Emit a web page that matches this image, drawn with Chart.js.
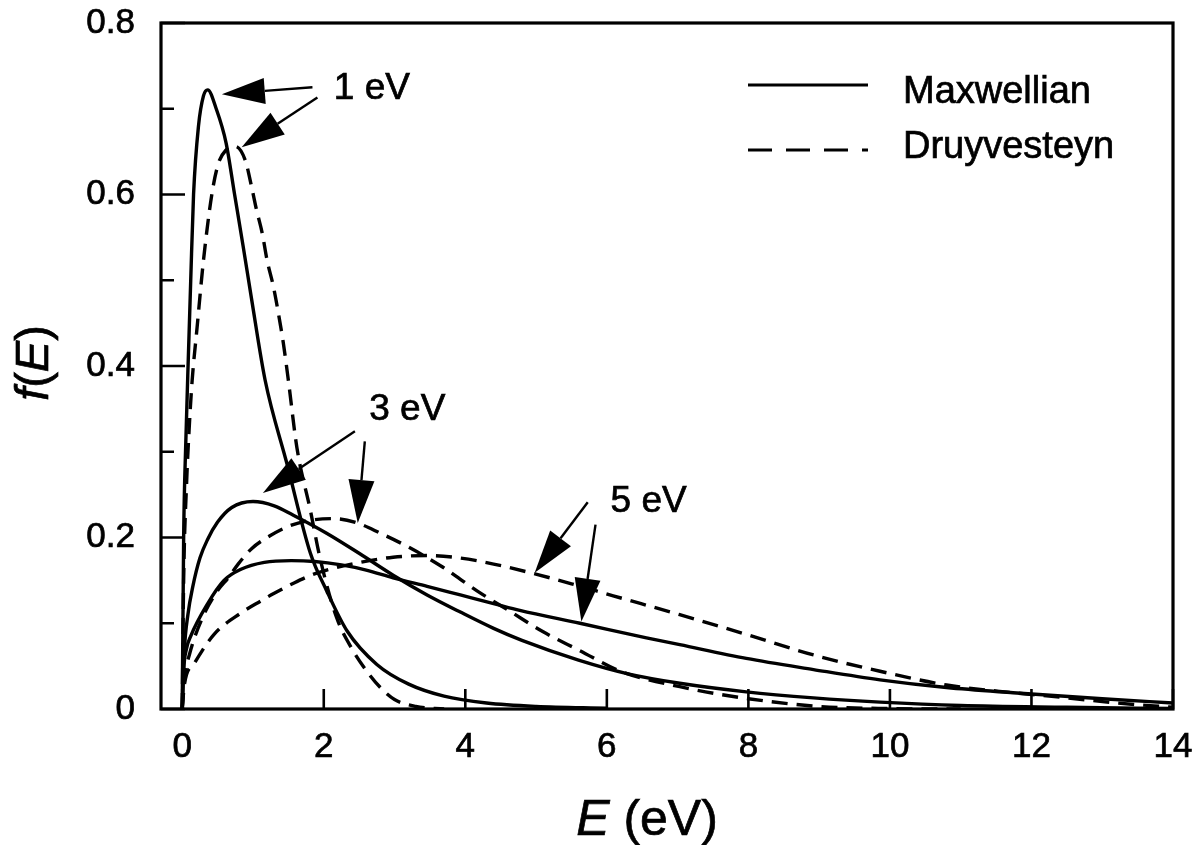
<!DOCTYPE html>
<html>
<head>
<meta charset="utf-8">
<title>Maxwellian and Druyvesteyn energy distributions</title>
<script src="https://cdn.jsdelivr.net/npm/chart.js@4.4.1/dist/chart.umd.min.js"></script>
<style>
  html, body { margin: 0; padding: 0; background: #fff; }
  canvas { display: block; }
</style>
</head>
<body>
<canvas id="edfChart" width="1195" height="845"></canvas>
<script>
// E (eV) and f(E), one pair of arrays per curve
const maxwell1E = [0, 0.02, 0.05, 0.09, 0.12, 0.16, 0.23, 0.30, 0.36, 0.48, 0.62, 0.74, 0.86, 0.98, 1.17, 1.48, 1.81, 2.04, 2.33, 2.75, 3.2, 3.7, 4.3, 5.0, 6.0];
const maxwell1F = [0, 0.20, 0.31, 0.42, 0.50, 0.60, 0.68, 0.715, 0.722, 0.70, 0.66, 0.60, 0.54, 0.478, 0.384, 0.286, 0.182, 0.138, 0.091, 0.052, 0.029, 0.015, 0.007, 0.003, 0.001];

const druy1E = [0, 0.02, 0.06, 0.10, 0.14, 0.21, 0.30, 0.42, 0.51, 0.62, 0.75, 0.89, 0.98, 1.05, 1.13, 1.20, 1.29, 1.36, 1.43, 1.50, 1.62, 1.81, 1.95, 2.18, 2.40, 2.60, 2.80, 3.00, 3.30, 3.70];
const druy1F = [0, 0.15, 0.26, 0.33, 0.383, 0.445, 0.523, 0.601, 0.636, 0.652, 0.656, 0.64, 0.609, 0.582, 0.555, 0.523, 0.492, 0.461, 0.426, 0.383, 0.305, 0.232, 0.175, 0.107, 0.07, 0.045, 0.025, 0.011, 0.003, 0];

const maxwell3E = [0, 0.03, 0.08, 0.15, 0.25, 0.36, 0.5, 0.7, 1.0, 1.3, 1.57, 2.04, 2.51, 2.98, 3.46, 3.93, 4.40, 4.8, 5.6, 6.3, 7.03, 7.97, 8.92, 9.86, 11, 12.5, 14];
const maxwell3F = [0, 0.068, 0.11, 0.143, 0.176, 0.198, 0.218, 0.235, 0.242, 0.237, 0.226, 0.205, 0.181, 0.156, 0.133, 0.113, 0.094, 0.080, 0.057, 0.041, 0.030, 0.020, 0.013, 0.008, 0.004, 0.002, 0.0005];

const druy3E = [0, 0.03, 0.10, 0.30, 0.50, 0.65, 0.79, 0.98, 1.24, 1.50, 1.81, 2.15, 2.47, 2.8, 3.17, 3.69, 4.16, 4.63, 5.1, 5.62, 6.19, 7.03, 8.0, 9.0, 10, 11];
const druy3F = [0, 0.035, 0.063, 0.109, 0.138, 0.153, 0.169, 0.187, 0.202, 0.213, 0.22, 0.222, 0.217, 0.205, 0.19, 0.165, 0.138, 0.114, 0.09, 0.068, 0.044, 0.026, 0.012, 0.003, 0.0005, 0];

const maxwell5E = [0, 0.02, 0.06, 0.12, 0.36, 0.59, 0.83, 1.16, 1.54, 1.87, 2.25, 2.6, 2.98, 3.46, 3.93, 4.40, 4.77, 5.62, 6.56, 7.03, 7.97, 8.92, 9.86, 10.8, 11.74, 13, 14];
const maxwell5F = [0, 0.045, 0.07, 0.085, 0.123, 0.15, 0.163, 0.171, 0.173, 0.172, 0.168, 0.162, 0.153, 0.143, 0.133, 0.123, 0.115, 0.100, 0.083, 0.075, 0.059, 0.046, 0.034, 0.025, 0.019, 0.012, 0.007];

const druy5E = [0, 0.03, 0.17, 0.45, 0.83, 1.11, 1.30, 1.58, 1.82, 2.04, 2.51, 2.98, 3.46, 3.93, 4.40, 5.01, 5.5, 6.09, 7.03, 7.97, 8.92, 9.86, 10.8, 11.74, 12.5, 13.2, 14];
const druy5F = [0, 0.028, 0.053, 0.087, 0.112, 0.126, 0.135, 0.147, 0.156, 0.162, 0.171, 0.177, 0.179, 0.176, 0.169, 0.157, 0.146, 0.132, 0.110, 0.087, 0.063, 0.044, 0.028, 0.019, 0.013, 0.007, 0.002];

// axes
const xTickValues = [0, 2, 4, 6, 8, 10, 12, 14];
const xTickLabels = ['0', '2', '4', '6', '8', '10', '12', '14'];
const yTickValues = [0, 0.2, 0.4, 0.6, 0.8];
const yTickLabels = ['0', '0.2', '0.4', '0.6', '0.8'];
const yMinorTicks = [0.1, 0.3, 0.5, 0.7];

// legend and curve labels (in data units)
const legendLabels = ['Maxwellian', 'Druyvesteyn'];
const noteLabels = ['1 eV', '3 eV', '5 eV'];
const noteE = [2.68, 3.18, 6.59];
const noteF = [0.723, 0.349, 0.242];
const arrowTailE = [1.84, 1.91, 2.44, 2.58, 5.73, 5.84];
const arrowTailF = [0.725, 0.713, 0.324, 0.312, 0.241, 0.215];
const arrowTipE = [0.56, 0.84, 1.14, 2.48, 4.98, 5.64];
const arrowTipF = [0.717, 0.655, 0.252, 0.217, 0.159, 0.102];

const FONT = '"Liberation Sans", Arial, Helvetica, sans-serif';
const DASH = [16, 9];

function toPoints(xs, ys) {
  return xs.map((x, i) => ({ x: x, y: ys[i] }));
}

function curve(label, xs, ys, dashed) {
  return {
    label: label,
    data: toPoints(xs, ys),
    borderColor: '#000',
    borderWidth: 3.4,
    borderDash: dashed ? DASH : [],
    pointRadius: 0,
    cubicInterpolationMode: 'monotone',
    fill: false
  };
}

function drawArrow(ctx, x1, y1, x2, y2) {
  const ang = Math.atan2(y2 - y1, x2 - x1);
  const len = 43, half = 13;
  const bx = x2 - len * Math.cos(ang);
  const by = y2 - len * Math.sin(ang);
  ctx.lineWidth = 2.4;
  ctx.beginPath();
  ctx.moveTo(x1, y1);
  ctx.lineTo(bx, by);
  ctx.stroke();
  ctx.beginPath();
  ctx.moveTo(x2, y2);
  ctx.lineTo(bx + half * Math.sin(ang), by - half * Math.cos(ang));
  ctx.lineTo(bx - half * Math.sin(ang), by + half * Math.cos(ang));
  ctx.closePath();
  ctx.fill();
}

// fill plus a thin stroke, so the text has the weight of the scanned original
function heavyText(ctx, t, x, y) {
  ctx.fillText(t, x, y);
  ctx.strokeText(t, x, y);
}

// frame, inward ticks, notes, legend and axis titles
const decorPlugin = {
  id: 'decor',
  afterDraw(chart) {
    const { ctx, chartArea: a, scales: { x, y } } = chart;
    ctx.save();
    ctx.strokeStyle = '#000';
    ctx.fillStyle = '#000';
    ctx.setLineDash([]);

    ctx.lineWidth = 3.2;
    ctx.strokeRect(a.left, a.top, a.right - a.left, a.bottom - a.top);

    ctx.lineWidth = 2.6;
    ctx.beginPath();
    xTickValues.forEach(v => {
      const px = x.getPixelForValue(v);
      ctx.moveTo(px, a.bottom);
      ctx.lineTo(px, a.bottom - 20);
    });
    yTickValues.forEach(v => {
      const py = y.getPixelForValue(v);
      ctx.moveTo(a.left, py);
      ctx.lineTo(a.left + 24, py);
    });
    yMinorTicks.forEach(v => {
      const py = y.getPixelForValue(v);
      ctx.moveTo(a.left, py);
      ctx.lineTo(a.left + 13, py);
    });
    ctx.stroke();

    // arrows, then the notes they point from
    arrowTipE.forEach((e, i) => {
      drawArrow(ctx,
        x.getPixelForValue(arrowTailE[i]), y.getPixelForValue(arrowTailF[i]),
        x.getPixelForValue(e), y.getPixelForValue(arrowTipF[i]));
    });
    ctx.lineWidth = 0.7;
    ctx.font = '37px ' + FONT;
    ctx.textAlign = 'center';
    ctx.textBaseline = 'middle';
    noteLabels.forEach((t, i) => {
      heavyText(ctx, t, x.getPixelForValue(noteE[i]), y.getPixelForValue(noteF[i]));
    });

    // legend
    const lx0 = a.right - 425, lx1 = a.right - 305, tx = a.right - 270;
    ctx.lineWidth = 3;
    ctx.beginPath();
    ctx.moveTo(lx0, a.top + 62);
    ctx.lineTo(lx1, a.top + 62);
    ctx.stroke();
    ctx.setLineDash([24, 14]);
    ctx.beginPath();
    ctx.moveTo(lx0, a.top + 127);
    ctx.lineTo(lx1, a.top + 127);
    ctx.stroke();
    ctx.setLineDash([]);
    ctx.lineWidth = 0.7;
    ctx.font = '38px ' + FONT;
    ctx.textAlign = 'left';
    ctx.textBaseline = 'alphabetic';
    heavyText(ctx, legendLabels[0], tx, a.top + 80);
    heavyText(ctx, legendLabels[1], tx, a.top + 135);

    // x title: italic E + " (eV)"
    const rest = ' (eV)';
    ctx.font = 'italic 50px ' + FONT;
    const wE = ctx.measureText('E').width;
    ctx.font = '50px ' + FONT;
    const wR = ctx.measureText(rest).width;
    const cx = (a.left + a.right) / 2 - 20;
    const x0 = cx - (wE + wR) / 2;
    ctx.font = 'italic 50px ' + FONT;
    heavyText(ctx, 'E', x0, 835);
    ctx.font = '50px ' + FONT;
    heavyText(ctx, rest, x0 + wE, 835);

    // y title: f(E), rotated, f and E italic
    ctx.translate(35, (a.top + a.bottom) / 2 - 3);
    ctx.rotate(-Math.PI / 2);
    const parts = [['f', true], ['(', false], ['E', true], [')', false]];
    let total = 0;
    parts.forEach(p => {
      ctx.font = (p[1] ? 'italic ' : '') + '47px ' + FONT;
      total += ctx.measureText(p[0]).width;
    });
    let px = -total / 2;
    ctx.textBaseline = 'middle';
    parts.forEach(p => {
      ctx.font = (p[1] ? 'italic ' : '') + '47px ' + FONT;
      heavyText(ctx, p[0], px, 0);
      px += ctx.measureText(p[0]).width;
    });
    ctx.restore();
  }
};

const tickFont = { family: FONT, size: 35 };

new Chart(document.getElementById('edfChart').getContext('2d'), {
  type: 'line',
  data: {
    datasets: [
      curve('Maxwellian 1 eV', maxwell1E, maxwell1F, false),
      curve('Druyvesteyn 1 eV', druy1E, druy1F, true),
      curve('Maxwellian 3 eV', maxwell3E, maxwell3F, false),
      curve('Druyvesteyn 3 eV', druy3E, druy3F, true),
      curve('Maxwellian 5 eV', maxwell5E, maxwell5F, false),
      curve('Druyvesteyn 5 eV', druy5E, druy5F, true)
    ]
  },
  options: {
    responsive: false,
    animation: false,
    devicePixelRatio: 1,
    events: [],
    layout: { padding: { top: 23, right: 22, left: 0, bottom: 0 } },
    plugins: {
      legend: { display: false },
      tooltip: { enabled: false },
      title: { display: false }
    },
    scales: {
      x: {
        type: 'linear',
        min: -0.3,
        max: 14,
        grid: { display: false },
        border: { display: false },
        afterBuildTicks: s => { s.ticks = xTickValues.map(v => ({ value: v })); },
        afterFit: s => { s.height = 136; s.paddingLeft = 0; s.paddingRight = 0; },
        ticks: {
          color: '#000',
          font: tickFont,
          textStrokeColor: '#000',
          textStrokeWidth: 0.7,
          padding: 9,
          maxRotation: 0,
          autoSkip: false,
          callback: (v, i) => xTickLabels[i]
        }
      },
      y: {
        type: 'linear',
        min: 0,
        max: 0.8,
        grid: { display: false },
        border: { display: false },
        afterBuildTicks: s => { s.ticks = yTickValues.map(v => ({ value: v })); },
        afterFit: s => { s.width = 161; s.paddingTop = 0; s.paddingBottom = 0; },
        ticks: {
          color: '#000',
          font: tickFont,
          textStrokeColor: '#000',
          textStrokeWidth: 0.7,
          padding: 18,
          autoSkip: false,
          callback: (v, i) => yTickLabels[i]
        }
      }
    }
  },
  plugins: [decorPlugin]
});
</script>
</body>
</html>
